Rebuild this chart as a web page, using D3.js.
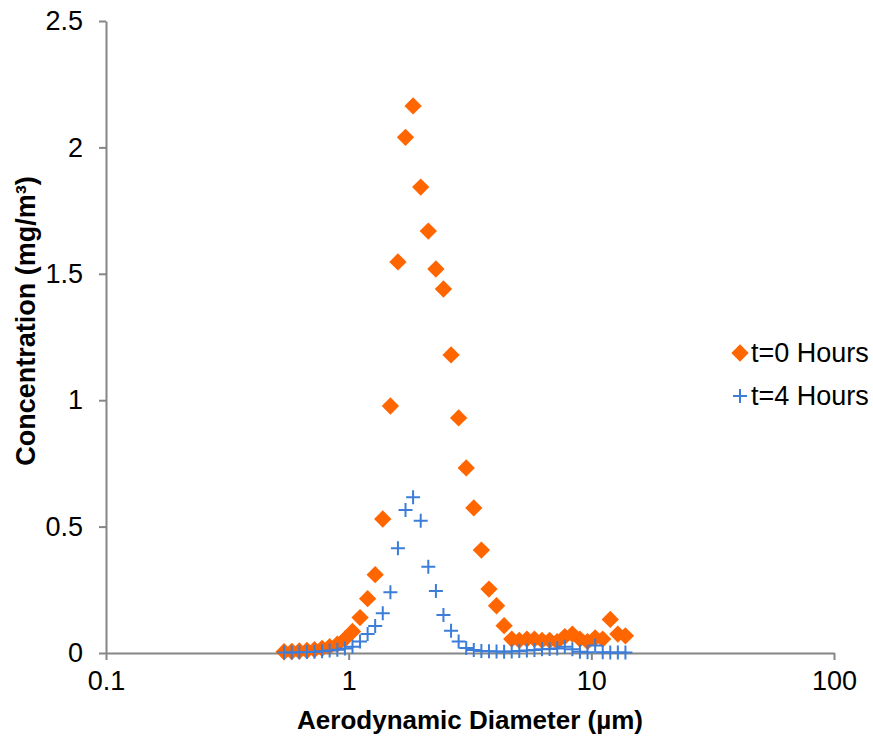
<!DOCTYPE html>
<html lang="en">
  <head>
    <meta charset="UTF-8" />
    <script src="https://d3js.org/d3.v7.min.js"></script>
    <style>
      body { margin: 0; background: #fff; }
      text { font-family: "Liberation Sans", Arial, sans-serif; fill: #000; }
      .axis path, .axis line { stroke: #868686; stroke-width: 2px; }
      .axis text { font-size: 27px; }
      .title { font-size: 26px; font-weight: bold; }
    </style>
    <title>Concentration</title>
  </head>
  <body>
    <svg id="chart" width="873" height="739"></svg>
    <script>
      // particle size bins (µm)
      const diameters = [
        0.542, 0.583, 0.626, 0.673, 0.723, 0.777, 0.835, 0.898, 0.965, 1.037,
        1.114, 1.197, 1.286, 1.382, 1.486, 1.596, 1.715, 1.843, 1.981, 2.129,
        2.288, 2.458, 2.642, 2.839, 3.051, 3.278, 3.523, 3.786, 4.068, 4.371,
        4.698, 5.048, 5.425, 5.829, 6.264, 6.732, 7.234, 7.774, 8.354, 8.977,
        9.647, 10.37, 11.14, 11.97, 12.86, 13.82,
      ];
      const conc0h = [
        0.005, 0.006, 0.008, 0.01, 0.013, 0.018, 0.025, 0.035, 0.055, 0.085,
        0.14, 0.215, 0.31, 0.53, 0.977, 1.547, 2.04, 2.164, 1.843, 1.669,
        1.519, 1.44, 1.179, 0.93, 0.732, 0.574, 0.407, 0.253, 0.187, 0.108,
        0.055, 0.05, 0.055, 0.055, 0.05, 0.05, 0.045, 0.065, 0.075, 0.055,
        0.045, 0.06, 0.055, 0.133, 0.075, 0.068,
      ];
      const conc4h = [
        0.002, 0.002, 0.003, 0.004, 0.005, 0.007, 0.01, 0.013, 0.018, 0.025,
        0.045, 0.075, 0.107, 0.157, 0.24, 0.414, 0.566, 0.616, 0.523, 0.341,
        0.245, 0.15, 0.088, 0.045, 0.02, 0.012, 0.008, 0.007, 0.006, 0.005,
        0.006, 0.008, 0.01, 0.012, 0.015, 0.016, 0.018, 0.025, 0.015, 0.005,
        0.003, 0.03, 0.003, 0.002, 0.002, 0.002,
      ];
      const xTicks = [0.1, 1, 10, 100];
      const yTicks = [0, 0.5, 1, 1.5, 2, 2.5];
      const seriesNames = ["t=0 Hours", "t=4 Hours"];

      const svg = d3.select("#chart");
      const margin = { top: 21, right: 39, bottom: 86, left: 106 };
      const x = d3.scaleLog().domain([0.1, 100]).range([margin.left, 873 - margin.right]);
      const y = d3.scaleLinear().domain([0, 2.5]).range([739 - margin.bottom, margin.top]);

      // axes
      svg.append("g")
        .attr("class", "axis")
        .attr("transform", `translate(0,${y(0)})`)
        .call(d3.axisBottom(x).tickValues(xTicks).tickFormat(d3.format("")).tickSize(7).tickSizeOuter(0).tickPadding(11));

      svg.append("g")
        .attr("class", "axis")
        .attr("transform", `translate(${margin.left},0)`)
        .call(d3.axisLeft(y).tickValues(yTicks).tickFormat(d3.format("")).tickSize(7).tickSizeOuter(0).tickPadding(16));

      // axis titles
      svg.append("text")
        .attr("class", "title")
        .attr("x", 470)
        .attr("y", 729)
        .attr("text-anchor", "middle")
        .text("Aerodynamic Diameter (µm)");

      svg.append("text")
        .attr("class", "title")
        .attr("transform", "translate(35,321) rotate(-90)")
        .attr("text-anchor", "middle")
        .style("font-size", "27px")
        .text("Concentration (mg/m³)");

      const orange = "#ff6600";
      const blue = "#3b7dd8";
      const diamond = d3.symbol().type(d3.symbolSquare).size(150);

      function plusPath(s) {
        // thin plus sign of half-size s
        return `M${-s},0H${s}M0,${-s}V${s}`;
      }

      const pts0 = diameters.map((d, i) => [d, conc0h[i]]);
      const pts4 = diameters.map((d, i) => [d, conc4h[i]]);

      svg.append("g")
        .selectAll("path")
        .data(pts0)
        .join("path")
        .attr("d", diamond)
        .attr("transform", (d) => `translate(${x(d[0])},${y(d[1])}) rotate(45)`)
        .attr("fill", orange);

      svg.append("g")
        .selectAll("path")
        .data(pts4)
        .join("path")
        .attr("d", plusPath(7))
        .attr("transform", (d) => `translate(${x(d[0])},${y(d[1])})`)
        .attr("stroke", blue)
        .attr("stroke-width", 2)
        .attr("fill", "none");

      // legend
      const legend = svg.append("g").attr("transform", "translate(740,353)");
      legend.append("path")
        .attr("d", diamond)
        .attr("transform", "rotate(45)")
        .attr("fill", orange);
      legend.append("text")
        .attr("x", 11)
        .attr("y", 9)
        .style("font-size", "27px")
        .text(seriesNames[0]);
      legend.append("path")
        .attr("d", plusPath(7))
        .attr("transform", "translate(0,43)")
        .attr("stroke", blue)
        .attr("stroke-width", 2);
      legend.append("text")
        .attr("x", 11)
        .attr("y", 52)
        .style("font-size", "27px")
        .text(seriesNames[1]);
    </script>
  </body>
</html>
